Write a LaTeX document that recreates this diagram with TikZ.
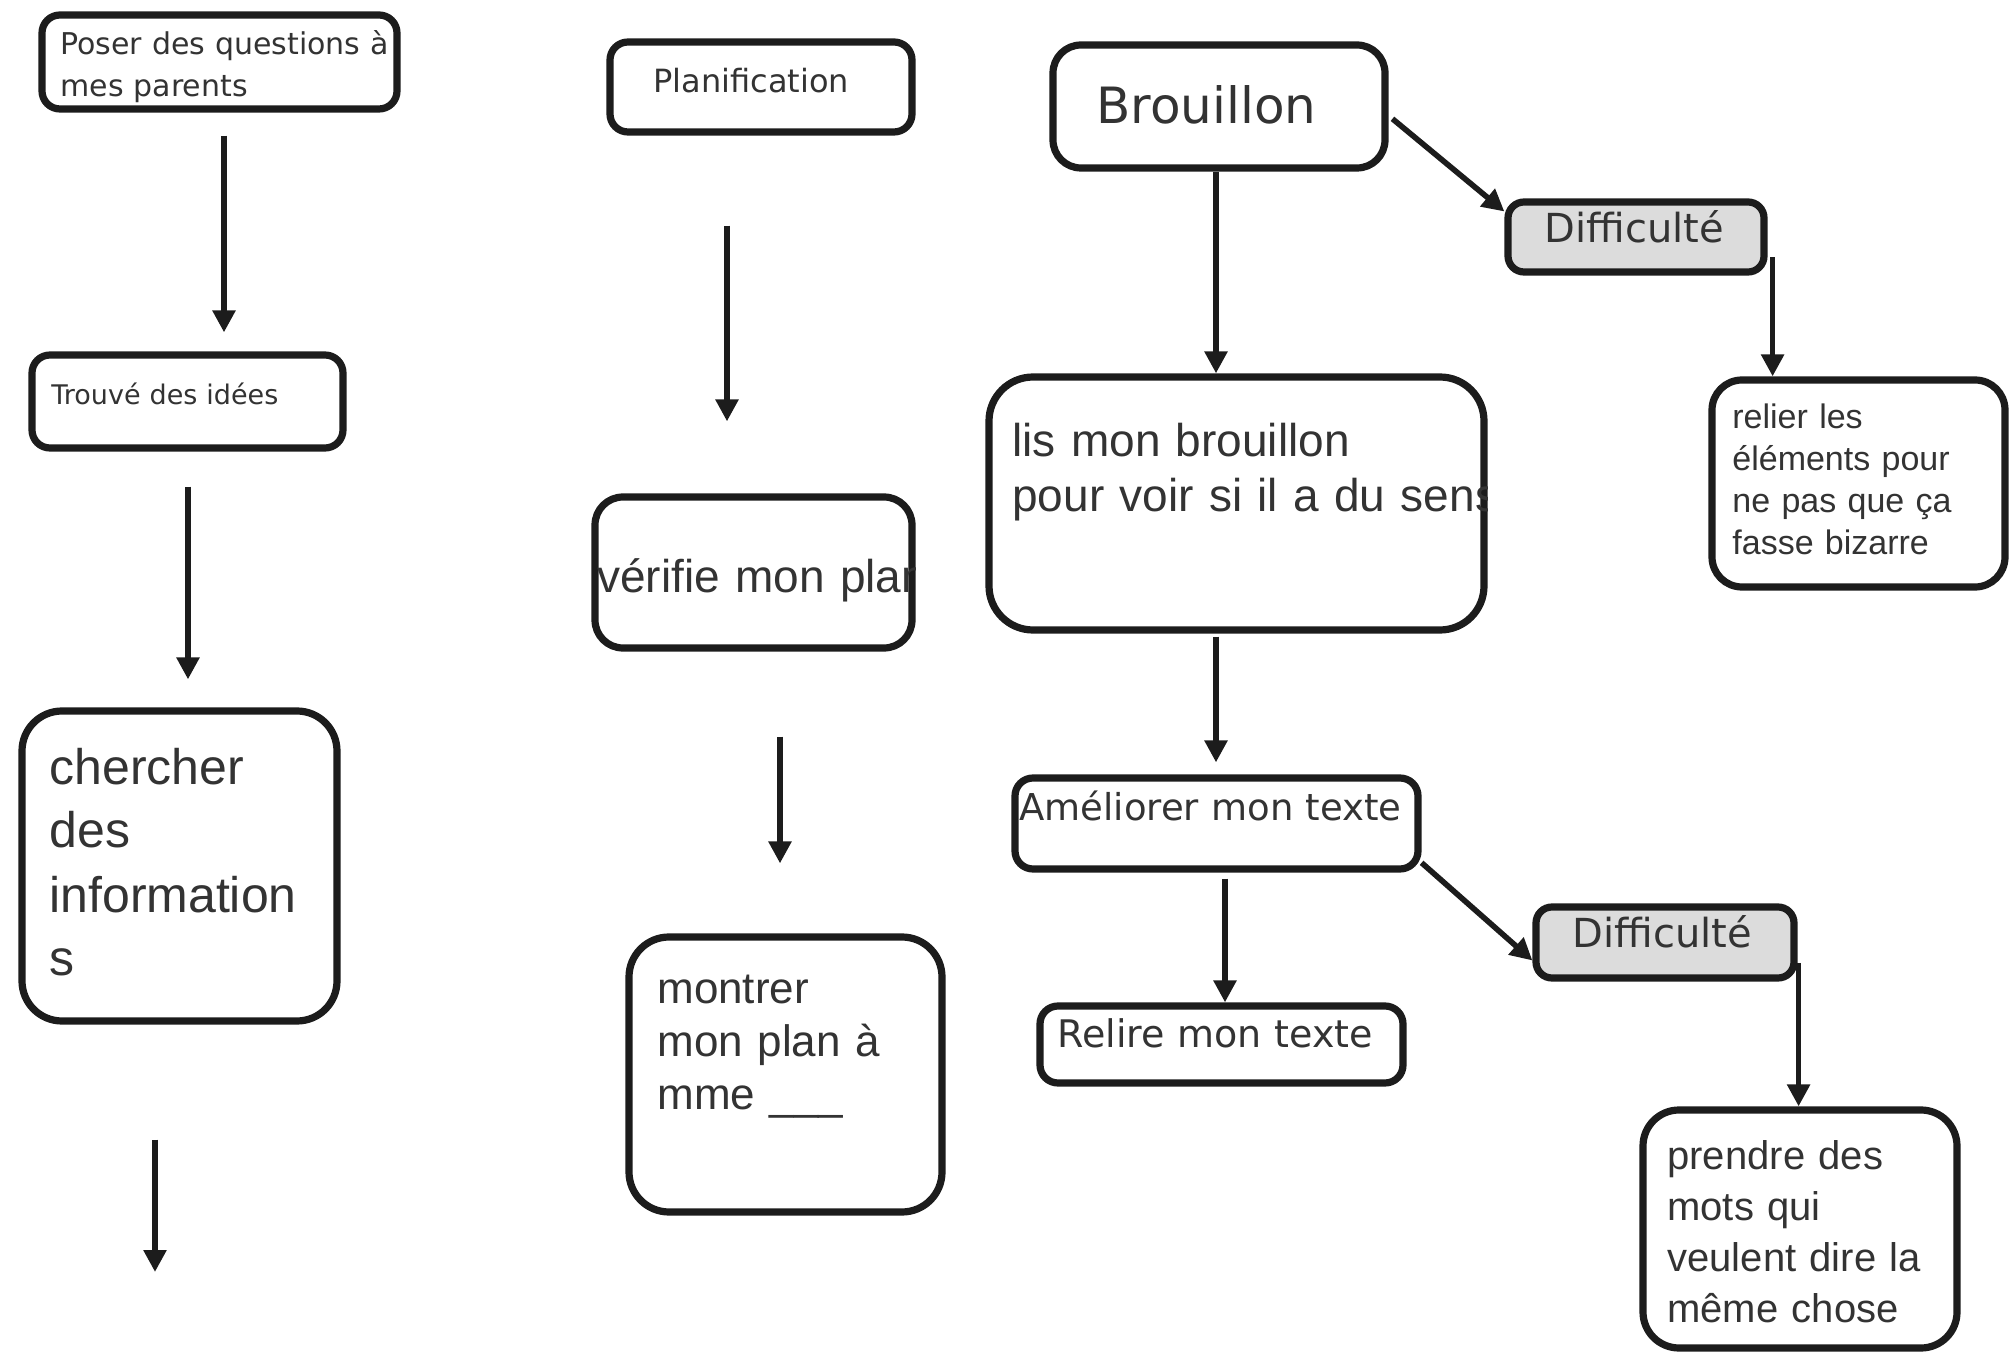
\documentclass[tikz,border=0pt]{standalone}
\usepackage{fontspec}
\newfontfamily\comicf{DejaVu Sans}
\newfontfamily\arialf{Liberation Sans}
\usetikzlibrary{arrows.meta,calc}
\definecolor{ink}{HTML}{1C1C1C}
\definecolor{txt}{HTML}{333333}
\definecolor{diffgray}{HTML}{DCDCDC}
\begin{document}
\begin{tikzpicture}[x=0.5pt,y=-0.5pt,
  box/.style={draw=ink, line width=3.6pt, rounded corners=#1, inner sep=0pt},
  box/.default=9pt,
  dbox/.style={box=8pt, fill=diffgray},
  lbl/.style={anchor=base west, inner sep=0pt, text=txt, align=left, text width=320pt},
  arr/.style={draw=ink, line width=2.8pt, -{Triangle[width=11pt,length=11pt]}},
]
\fill[white] (0,0) rectangle (2009,1352);
\useasboundingbox (0,0) rectangle (2009,1352);

% ---- texts of the plain boxes
\node[lbl, font=\comicf\fontsize{15}{21}\selectfont] (tposer) at (60,55) {Poser des questions à\\\underline{mes parents}};
\node[lbl, font=\comicf\fontsize{13.5}{16}\selectfont] (ttrouve) at (51,405) {Trouvé des idées};
\node[lbl, font=\arialf\fontsize{25}{32}\selectfont] (tchercher) at (49,784) {chercher\\des\\information\\s};
\node[lbl, font=\comicf\fontsize{16}{19}\selectfont] (tplanif) at (653,93) {Planification};
\node[lbl, font=\arialf\fontsize{22}{26.5}\selectfont] (tmontrer) at (657,1003) {montrer\\mon plan à\\mme \_\_\_};
\node[lbl, font=\comicf\fontsize{25}{30}\selectfont] (tbrou) at (1096,124) {Brouillon};
\node[lbl, font=\arialf\fontsize{17}{21}\selectfont] (trelier) at (1732,429) {relier les\\éléments pour\\ne pas que ça\\fasse bizarre};
\node[lbl, font=\comicf\fontsize{18.5}{22}\selectfont] (tamel) at (1019,820) {Améliorer mon texte};
\node[lbl, font=\comicf\fontsize{19}{22}\selectfont] (trelire) at (1057,1047) {Relire mon texte};
\node[lbl, font=\arialf\fontsize{20}{25.5}\selectfont] (tprendre) at (1667,1169) {prendre des\\mots qui\\veulent dire la\\même chose};

% ---- boxes
\node[box, minimum width=177.5pt, minimum height=47pt] (poser) at (219.5,62) {};
\node[box, minimum width=155.5pt, minimum height=46.5pt] (trouve) at (187.5,401.5) {};
\node[box=20pt, minimum width=157.5pt, minimum height=155pt] (chercher) at (179.5,866) {};
\node[box, minimum width=151pt, minimum height=45pt] (planif) at (761,87) {};
\node[box=14pt, minimum width=158.5pt, minimum height=75.5pt] (verifie) at (753.5,572.5) {};
\node[box=20pt, minimum width=156.5pt, minimum height=137.5pt] (montrer) at (785.5,1074.5) {};
\node[box=14pt, minimum width=166pt, minimum height=61.5pt] (brou) at (1219,106.5) {};
\node[dbox, minimum width=128pt, minimum height=35pt] (diff1) at (1636,237) {};
\node[box=15pt, minimum width=146.5pt, minimum height=103.5pt] (relier) at (1858.5,483.5) {};
\node[box=22pt, minimum width=247.5pt, minimum height=126.5pt] (lis) at (1236.5,503.5) {};
\node[box, minimum width=201.5pt, minimum height=45.5pt] (amel) at (1216.5,823.5) {};
\node[box, minimum width=181.5pt, minimum height=38.5pt] (relire) at (1221.5,1044.5) {};
\node[dbox, minimum width=129pt, minimum height=35.5pt] (diff2) at (1665,942.5) {};
\node[box=18pt, minimum width=157pt, minimum height=119pt] (prendre) at (1800,1229) {};

% ---- texts cut by their box border
\begin{scope}
  \clip (verifie.south west) rectangle (verifie.north east);
  \node[lbl, font=\arialf\fontsize{23}{27}\selectfont] (tverifie) at (597,593) {vérifie mon plan};
\end{scope}
\begin{scope}
  \clip (lis.south west) rectangle (lis.north east);
  \node[lbl, font=\arialf\fontsize{23}{27.5}\selectfont] (tlis) at (1012,457) {lis mon brouillon\\pour voir si il a du sens};
\end{scope}

% ---- texts of the grey boxes
\node[lbl, font=\comicf\fontsize{20}{24}\selectfont] (tdiff1) at (1544,243) {Difficulté};
\node[lbl, font=\comicf\fontsize{20}{24}\selectfont] (tdiff2) at (1572,947) {Difficulté};

% ---- connectors
\draw[arr, shorten <=11.5pt, shorten >=9.5pt] ([xshift=2.25pt]poser.south) -- ([xshift=18.25pt]trouve.north);
\draw[arr, shorten <=17.5pt, shorten >=14pt] ([xshift=0.25pt]trouve.south) -- ([xshift=4.25pt]chercher.north);
\coordinate (end3) at (155,1272);
\draw[arr, shorten <=57.5pt] ([xshift=-12.25pt]chercher.south) -- (end3);
\draw[arr, shorten <=45pt, shorten >=36pt] ([xshift=-17pt]planif.south) -- ([xshift=-13.25pt]verifie.north);
\draw[arr, shorten <=42.5pt, shorten >=35pt] ([xshift=13.25pt]verifie.south) -- ([xshift=-2.75pt]montrer.north);
\draw[arr] ([xshift=-1.5pt]brou.south) -- ([xshift=-10.25pt]lis.north);
\draw[arr, shorten <=1.5pt, shorten >=6pt] ([xshift=-10.25pt]lis.south) -- ([xshift=-0.25pt]amel.north);
\draw[arr, shorten <=3pt] ([xshift=4.25pt]amel.south) -- ([xshift=1.75pt]relire.north);
\draw[arr, shorten <=2.5pt] ($(brou.north east)!0.57!(brou.south east)$) -- ($(diff1.north west)!0.17!(diff1.south west)$);
\coordinate (d1s) at ($(diff1.north east)!0.76!(diff1.south east)+(5,0)$);
\draw[arr] (d1s) -- (d1s |- relier.north);
\draw[arr] ($(amel.north east)!0.9!(amel.south east)$) -- ($(diff2.north west)!0.73!(diff2.south west)$);
\coordinate (d2s) at ($(diff2.north east)!0.76!(diff2.south east)+(1,0)$);
\draw[arr] (d2s) -- (d2s |- prendre.north);
\end{tikzpicture}
\end{document}
